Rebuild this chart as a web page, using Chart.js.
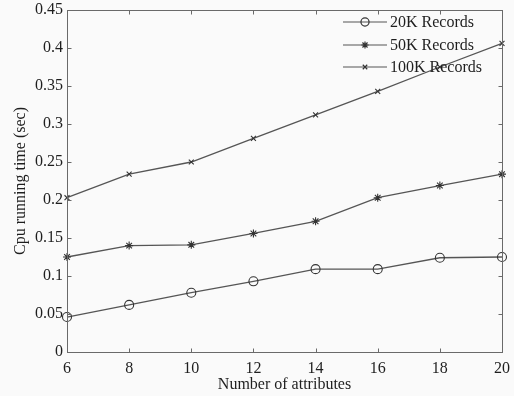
<!DOCTYPE html>
<html>
<head>
<meta charset="utf-8">
<script src="https://cdn.jsdelivr.net/npm/chart.js@4/dist/chart.umd.min.js"></script>
<style>
html,body{margin:0;padding:0;background:#fafafa;}
#wrap{width:514px;height:396px;}
</style>
</head>
<body>
<div id="wrap"><canvas id="c" width="514" height="396"></canvas></div>
<script>
const attributes = [6, 8, 10, 12, 14, 16, 18, 20];
const records20K = [0.046, 0.062, 0.078, 0.093, 0.109, 0.109, 0.124, 0.125];
const records50K = [0.125, 0.140, 0.141, 0.156, 0.172, 0.203, 0.219, 0.234];
const records100K = [0.203, 0.234, 0.250, 0.281, 0.312, 0.343, 0.375, 0.406];
const seriesNames = ['20K Records', '50K Records', '100K Records'];
const xTicks = [6, 8, 10, 12, 14, 16, 18, 20];
const yTicks = [0, 0.05, 0.1, 0.15, 0.2, 0.25, 0.3, 0.35, 0.4, 0.45];
const xTitle = 'Number of attributes';
const yTitle = 'Cpu running time (sec)';

const FONT = '"Liberation Serif", "Times New Roman", serif';
const LINE = '#555555';
const TEXT = '#1e1e1e';

function pts(vals){ return attributes.map((a,i)=>({x:a, y:vals[i]})); }

const styles = [
  {pointStyle:'circle', radius:4.5},
  {pointStyle:'star', radius:4},
  {pointStyle:'crossRot', radius:3.5}
];
const allSeries = [records20K, records50K, records100K];

const bgPlugin = {
  id:'bg',
  beforeDraw(chart){
    const ctx = chart.ctx;
    ctx.save();
    ctx.fillStyle = '#fafafa';
    ctx.fillRect(0,0,chart.width,chart.height);
    ctx.restore();
  }
};

const boxPlugin = {
  id:'box',
  afterDraw(chart){
    const {ctx, chartArea:a, scales} = chart;
    ctx.save();
    ctx.strokeStyle = '#6a6a6a';
    ctx.lineWidth = 1;
    const L = Math.round(a.left)+0.5, R = Math.round(a.right)+0.5, T = Math.round(a.top)+0.5, B = Math.round(a.bottom)+0.5;
    ctx.strokeRect(L, T, R-L, B-T);
    const tl = 4;
    ctx.beginPath();
    xTicks.forEach(v=>{
      const x = Math.round(scales.x.getPixelForValue(v))+0.5;
      ctx.moveTo(x,B); ctx.lineTo(x,B-tl);
      ctx.moveTo(x,T); ctx.lineTo(x,T+tl);
    });
    yTicks.forEach(v=>{
      const y = Math.round(scales.y.getPixelForValue(v))+0.5;
      ctx.moveTo(L,y); ctx.lineTo(L+tl,y);
      ctx.moveTo(R,y); ctx.lineTo(R-tl,y);
    });
    ctx.stroke();

    // legend
    const rows = [22, 45, 67];
    ctx.font = '16px ' + FONT;
    ctx.textBaseline = 'middle';
    ctx.textAlign = 'left';
    seriesNames.forEach((name,i)=>{
      const y = rows[i];
      ctx.strokeStyle = LINE;
      ctx.lineWidth = 1.2;
      ctx.beginPath(); ctx.moveTo(343,y); ctx.lineTo(387,y); ctx.stroke();
      ctx.strokeStyle = '#333333';
      ctx.fillStyle = 'rgba(0,0,0,0)';
      Chart.helpers.drawPoint(ctx, {pointStyle:styles[i].pointStyle, radius:styles[i].radius*0.9, borderWidth:1.1}, 365, y);
      ctx.fillStyle = TEXT;
      ctx.fillText(name, 390, y+1);
    });
    ctx.restore();
  }
};

new Chart(document.getElementById('c'), {
  type:'line',
  data:{
    datasets: allSeries.map((vals,i)=>({
      label: seriesNames[i],
      data: pts(vals),
      borderColor: LINE,
      backgroundColor: 'rgba(0,0,0,0)',
      pointBorderColor: '#333333',
      pointBackgroundColor: 'rgba(0,0,0,0)',
      borderWidth: 1.3,
      pointBorderWidth: 1.1,
      pointStyle: styles[i].pointStyle,
      pointRadius: styles[i].radius,
      tension: 0,
      clip: false
    }))
  },
  plugins:[bgPlugin, boxPlugin],
  options:{
    responsive:false,
    animation:false,
    events:[],
    layout:{padding:{left:0,right:12,top:10,bottom:0}},
    plugins:{legend:{display:false}, tooltip:{enabled:false}},
    scales:{
      x:{
        type:'linear', min:6, max:20,
        afterBuildTicks(s){ s.ticks = xTicks.map(v=>({value:v})); },
        afterFit(s){ s.height = 44; s.paddingLeft = 0; s.paddingRight = 0; },
        grid:{display:false, drawTicks:false},
        border:{display:false},
        ticks:{color:TEXT, font:{family:FONT, size:16}, padding:7, maxRotation:0, autoSkip:false},
        title:{display:true, text:xTitle, color:TEXT, font:{family:FONT, size:16}, padding:{top:0,bottom:2}}
      },
      y:{
        type:'linear', min:0, max:0.45,
        afterBuildTicks(s){ s.ticks = yTicks.map(v=>({value:v})); },
        afterFit(s){ s.width = 67; s.paddingTop = 0; s.paddingBottom = 0; },
        grid:{display:false, drawTicks:false},
        border:{display:false},
        ticks:{color:TEXT, font:{family:FONT, size:16}, padding:4, autoSkip:false,
          callback:(v)=>String(+v.toFixed(2))},
        title:{display:true, text:yTitle, color:TEXT, font:{family:FONT, size:16}, padding:{top:11,bottom:0}}
      }
    }
  }
});
</script>
</body>
</html>
